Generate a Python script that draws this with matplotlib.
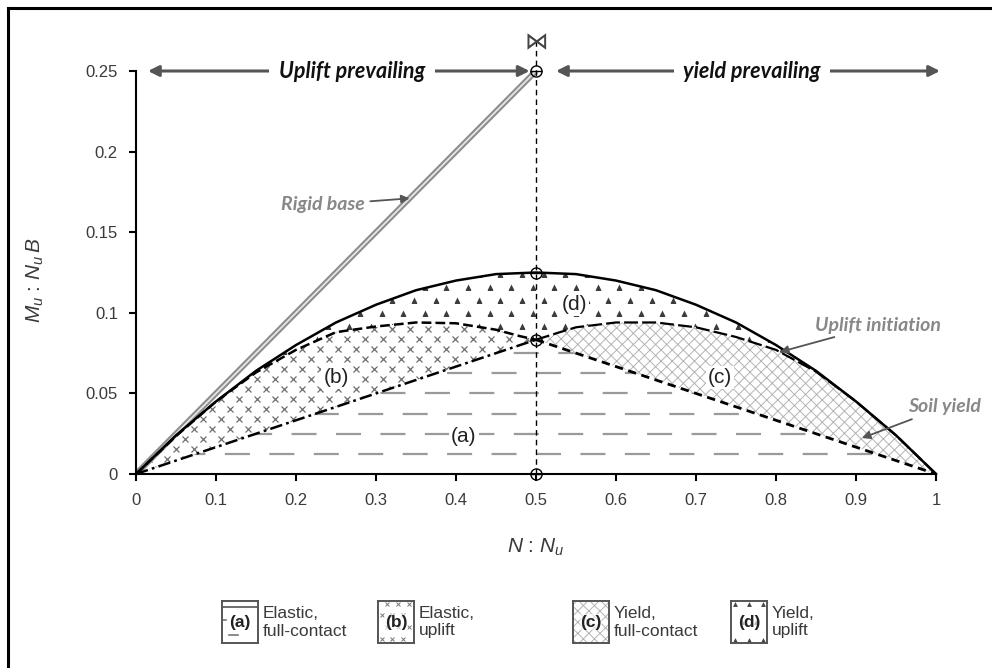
import numpy as np
import matplotlib
matplotlib.use("Agg")
from matplotlib import pyplot as plt
from matplotlib.patches import Polygon

plt.rcParams['font.family'] = ['Liberation Sans', 'DejaVu Sans']
plt.rcParams['mathtext.fontset'] = 'custom'
plt.rcParams['mathtext.it'] = 'Liberation Sans:italic'
plt.rcParams['mathtext.rm'] = 'Liberation Sans'
plt.rcParams['lines.scale_dashes'] = False
plt.rcParams['hatch.linewidth'] = 0.7

# --- data (N/Nu, Mu/NuB) ---
solid_n = [0, 0.05, 0.1, 0.15, 0.2, 0.25, 0.3, 0.35, 0.4, 0.45, 0.5,
           0.55, 0.6, 0.65, 0.7, 0.75, 0.8, 0.85, 0.9, 0.95, 1.0]
solid_m = [0, 0.024, 0.045, 0.064, 0.08, 0.094, 0.105, 0.114, 0.12, 0.124, 0.125,
           0.124, 0.12, 0.114, 0.105, 0.094, 0.08, 0.064, 0.045, 0.024, 0]

rigid_n = [0, 0.5]
rigid_m = [0, 0.25]

btop_n = [0, 0.05, 0.1, 0.15, 0.2, 0.25, 0.3, 0.35, 0.4, 0.45, 0.48, 0.5]
btop_m = [0, 0.0235, 0.045, 0.063, 0.077, 0.088, 0.0915, 0.094, 0.0935, 0.0895, 0.0855, 0.0833]

bbot_n = [0, 0.5]
bbot_m = [0, 0.0833]

ctop_n = [0.5, 0.53, 0.55, 0.6, 0.65, 0.7, 0.75, 0.8, 0.85, 0.9, 0.95, 1.0]
ctop_m = [0.0833, 0.088, 0.091, 0.094, 0.094, 0.091, 0.085, 0.077, 0.0635, 0.045, 0.024, 0]

cbot_n = [0.5, 1.0]
cbot_m = [0.0833, 0]

mark_n = [0.5, 0.5, 0.5, 0.5]
mark_m = [0, 0.0833, 0.125, 0.25]

xticks = [0, 0.1, 0.2, 0.3, 0.4, 0.5, 0.6, 0.7, 0.8, 0.9, 1.0]
xticklabels = ['0', '0.1', '0.2', '0.3', '0.4', '0.5', '0.6', '0.7', '0.8', '0.9', '1']
yticks = [0, 0.05, 0.1, 0.15, 0.2, 0.25]
yticklabels = ['0', '0.05', '0.1', '0.15', '0.2', '0.25']
rows_a = [0.0125, 0.025, 0.0375, 0.05, 0.0625, 0.075]

legend_tags = ['(a)', '(b)', '(c)', '(d)']
legend_texts = ['Elastic,\nfull-contact', 'Elastic,\nuplift', 'Yield,\nfull-contact', 'Yield,\nuplift']
legend_left_px = [222, 378, 573, 731]

TXT = '#3a3a3a'
C_HATCH = 'c'


def grid_points(x0, x1, y0, y1, dx, dy):
    xs, ys = [], []
    for i, y in enumerate(np.arange(y0, y1, dy)):
        off = dx / 2 if i % 2 else 0
        for x in np.arange(x0 + off, x1, dx):
            xs.append(x)
            ys.append(y)
    return xs, ys


def clip_region(ax, xs, ys):
    p = Polygon(np.column_stack([xs, ys]), closed=True, fc='none', ec='none')
    ax.add_patch(p)
    return p


fig = plt.figure(figsize=(9.92, 6.68), dpi=100)
ax = fig.add_axes([136 / 992, 1 - 474 / 668, 800 / 992, 403 / 668])
ax.set_xlim(0, 1)
ax.set_ylim(0, 0.25)

# region (a): horizontal dashed rows, alternate rows shifted
reg_a = clip_region(ax, bbot_n + cbot_n[1:], bbot_m + cbot_m[1:])
for i, y in enumerate(rows_a):
    ln, = ax.plot([0, 1], [y, y], color='#9a9a9a', lw=1.6,
                  ls=((i % 2) * 16, (18, 14)), dash_capstyle='butt')
    ln.set_clip_path(reg_a)

# region (b): small x marks
reg_b = clip_region(ax, btop_n + bbot_n[::-1], btop_m + bbot_m[::-1])
gx, gy = grid_points(0.005, 0.5, 0.003, 0.1, 0.0225, 0.0062)
ln, = ax.plot(gx, gy, 'x', ms=4.5, mew=0.9, color='#6e6e6e', ls='none')
ln.set_clip_path(reg_b)

# region (c): woven light hatch
reg_c = Polygon(np.column_stack([ctop_n + cbot_n[::-1], ctop_m + cbot_m[::-1]]),
                closed=True, fc='none', ec='#b4b4b4', lw=0, hatch='///\\\\\\')
ax.add_patch(reg_c)

# region (d): triangles between solid envelope and dashed curves
low_n = btop_n + ctop_n[1:]
low_m = btop_m + ctop_m[1:]
reg_d = clip_region(ax, solid_n + low_n[::-1], solid_m + low_m[::-1])
tx, ty = grid_points(0.01, 1.0, 0.004, 0.13, 0.027, 0.008)
ln, = ax.plot(tx, ty, '^', ms=5, color='#3c3c3c', mec='none', ls='none')
ln.set_clip_path(reg_d)

# curves
ax.plot(rigid_n, rigid_m, color='#8c8c8c', lw=4.2, solid_capstyle='butt')
ax.plot(rigid_n, rigid_m, color='#e6e6e6', lw=1.3, solid_capstyle='butt')
ax.plot(solid_n, solid_m, color='black', lw=1.8, clip_on=False)
ax.plot(btop_n, btop_m, color='black', lw=1.8, ls=(0, (7, 3)))
ax.plot(bbot_n, bbot_m, color='black', lw=1.8, ls=(0, (9, 3, 2, 3)))
ax.plot(ctop_n, ctop_m, color='black', lw=1.6, ls=(0, (10, 3)))
ax.plot(cbot_n, cbot_m, color='black', lw=2.0, ls=(0, (6, 4)), clip_on=False)

# vertical dashed line at N/Nu = 0.5 and markers
ax.plot([0.5, 0.5], [0, 0.268], color='black', lw=1.0, ls=(0, (4, 3)), clip_on=False)
ax.plot(mark_n, mark_m, 'o', ms=8, mfc='none', mec='black', mew=1.0, clip_on=False, zorder=5)
ax.plot(mark_n, mark_m, '_', ms=8, mec='black', mew=1.0, clip_on=False, zorder=5)
ax.text(0.5, 0.268, '\u22c8', ha='center', va='center', fontsize=17, color='#444444',
        family='DejaVu Sans')

# region labels
for lbl, x, y in [('(a)', 0.41, 0.023), ('(b)', 0.25, 0.06), ('(c)', 0.73, 0.06), ('(d)', 0.548, 0.105)]:
    ax.text(x, y, lbl, ha='center', va='center', fontsize=15, color='#222222',
            bbox=dict(fc='white', ec='none', pad=1.5), zorder=6)

# top arrows
arr = dict(arrowstyle='<|-|>', color='#555555', lw=2.2, mutation_scale=16, shrinkA=0, shrinkB=0)
ax.annotate('', xy=(0.015, 0.25), xytext=(0.492, 0.25), arrowprops=arr, annotation_clip=False)
ax.annotate('', xy=(0.525, 0.25), xytext=(1.005, 0.25), arrowprops=arr, annotation_clip=False)
bold_it = dict(family=['Lato', 'DejaVu Sans'], weight='bold', style='italic')
ax.text(0.27, 0.25, 'Uplift prevailing', ha='center', va='center', fontsize=15.5, color='#111111',
        bbox=dict(fc='white', ec='none', pad=7), **bold_it)
ax.text(0.77, 0.25, 'yield prevailing', ha='center', va='center', fontsize=15.5, color='#111111',
        bbox=dict(fc='white', ec='none', pad=7), **bold_it)

# curve annotations
ann = dict(arrowstyle='-|>', color='#555555', lw=1.3, mutation_scale=12, shrinkA=2, shrinkB=0)
ax.annotate('Rigid base', xy=(0.342, 0.171), xytext=(0.286, 0.167), ha='right', va='center',
            fontsize=14, color='#888888', arrowprops=ann, **bold_it)
ax.annotate('Uplift initiation', xy=(0.805, 0.0757), xytext=(0.849, 0.0924), ha='left', va='center',
            fontsize=14, color='#888888', arrowprops=ann, annotation_clip=False, **bold_it)
ax.annotate('Soil yield', xy=(0.9075, 0.0223), xytext=(0.965, 0.0416), ha='left', va='center',
            fontsize=14, color='#888888', arrowprops=ann, annotation_clip=False, **bold_it)

# axes styling
for s in ['top', 'right']:
    ax.spines[s].set_visible(False)
for s in ['left', 'bottom']:
    ax.spines[s].set_linewidth(1.5)
ax.set_xticks(xticks)
ax.set_xticklabels(xticklabels)
ax.set_yticks(yticks)
ax.set_yticklabels(yticklabels)
ax.tick_params(direction='out', length=5, width=1.5, labelsize=12, labelcolor=TXT)
ax.tick_params(axis='x', pad=9)
ax.tick_params(axis='y', pad=8)
ax.set_xlabel(r'$N$ : $N_u$', fontsize=15, color=TXT)
ax.set_ylabel(r'$M_u$ : $N_u\,B$', fontsize=15, color=TXT)
ax.xaxis.set_label_coords(0.5, -0.155)
ax.yaxis.set_label_coords(-0.112, 0.48)

# legend boxes
for k, (tag, txt, left) in enumerate(zip(legend_tags, legend_texts, legend_left_px)):
    lax = fig.add_axes([left / 992, 1 - 643 / 668, 36 / 992, 42 / 668])
    lax.set_xlim(0, 1)
    lax.set_ylim(0, 1)
    lax.set_xticks([])
    lax.set_yticks([])
    for s in lax.spines.values():
        s.set_linewidth(1.4)
        s.set_color('#555555')
    if k == 0:
        lax.plot([0, 1], [0.85, 0.85], color='#555555', lw=1.2)
        lax.plot([0, 0.12], [0.55, 0.55], color='#777777', lw=1.2)
        lax.plot([0.2, 0.45], [0.2, 0.2], color='#777777', lw=1.2)
    elif k == 1:
        px, py = grid_points(0.1, 1.0, 0.1, 1.0, 0.3, 0.28)
        lax.plot(px, py, 'x', ms=3.5, mew=0.7, color='#777777', ls='none')
    elif k == 2:
        lax.add_patch(Polygon([[0, 0], [1, 0], [1, 1], [0, 1]], fc='none', ec='#b4b4b4', lw=0,
                              hatch='///\\\\\\'))
    else:
        px, py = grid_points(0.1, 1.0, 0.08, 1.0, 0.4, 0.42)
        lax.plot(px, py, '^', ms=3.5, color='#444444', mec='none', ls='none')
    lax.text(0.5, 0.5, tag, ha='center', va='center', fontsize=12.5, color='#222222',
             weight='bold', bbox=dict(fc='white', ec='none', pad=0.5, alpha=0.6))
    fig.text((left + 41) / 992, 1 - 622 / 668, txt, ha='left', va='center', fontsize=12.5,
             color=TXT, linespacing=1.25)

# figure frame (left and top edges)
fig.add_artist(plt.Line2D([8 / 992, 8 / 992], [0, 1 - 8 / 668], color='black', lw=2.2,
                          transform=fig.transFigure))
fig.add_artist(plt.Line2D([8 / 992, 1], [1 - 8 / 668, 1 - 8 / 668], color='black', lw=2.2,
                          transform=fig.transFigure))

fig.savefig('out.png', dpi=100)
